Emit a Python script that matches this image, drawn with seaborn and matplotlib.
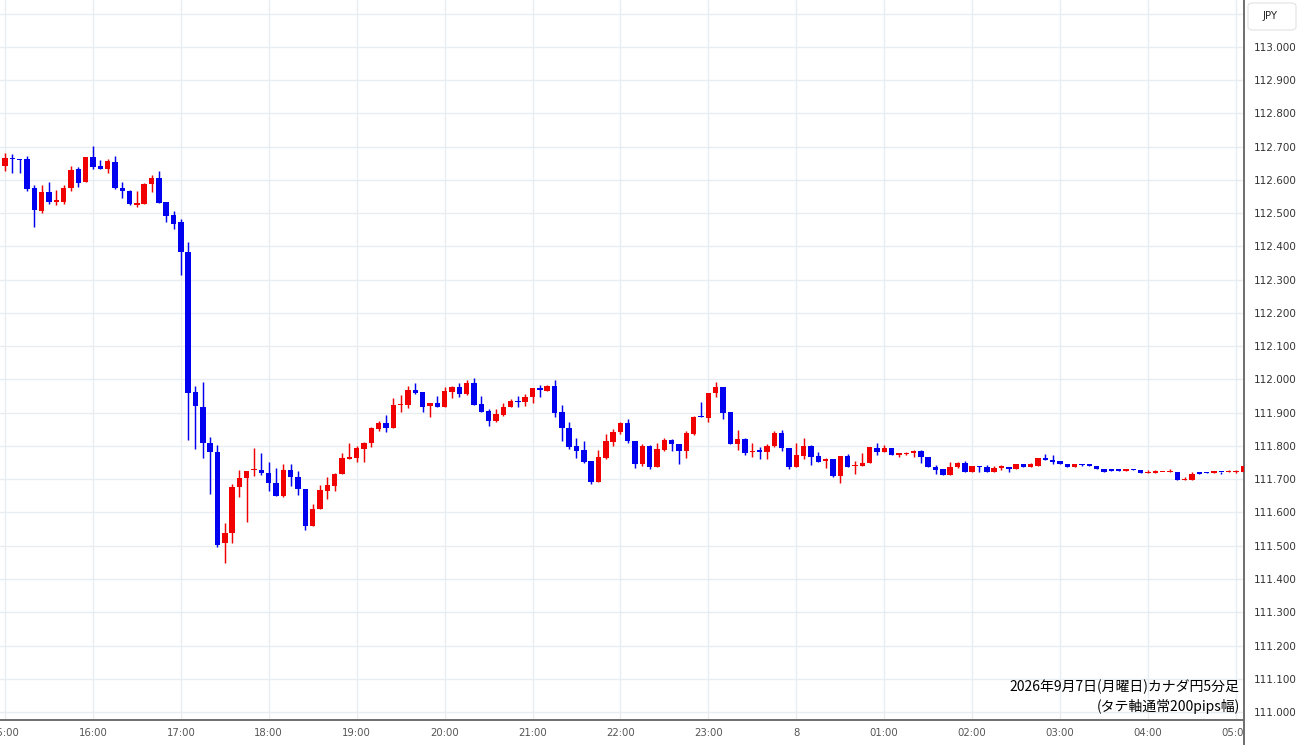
import numpy as np
import matplotlib
matplotlib.use("Agg")
import matplotlib.pyplot as plt
from matplotlib.patches import FancyBboxPatch, Rectangle
from matplotlib.lines import Line2D
import seaborn as sns

# ---- data: 5-minute CAD/JPY candles starting 15:00 ----
opens = [112.643, 112.665, 112.662, 112.662, 112.577, 112.506, 112.565, 112.535, 112.535, 112.575,
         112.632, 112.595, 112.670, 112.642, 112.632, 112.655, 112.577, 112.568, 112.526, 112.527,
         112.587, 112.607, 112.535, 112.495, 112.472, 112.384, 111.961, 111.918, 111.808, 111.783,
         111.507, 111.539, 111.676, 111.703, 111.727, 111.728, 111.720, 111.690, 111.651, 111.728,
         111.708, 111.671, 111.560, 111.610, 111.666, 111.680, 111.715, 111.762, 111.763, 111.790,
         111.808, 111.850, 111.870, 111.853, 111.923, 111.923, 111.968, 111.963, 111.920, 111.928,
         111.918, 111.963, 111.976, 111.956, 111.990, 111.926, 111.906, 111.875, 111.893, 111.916,
         111.935, 111.933, 111.948, 111.973, 111.966, 111.980, 111.903, 111.855, 111.800, 111.788,
         111.756, 111.691, 111.765, 111.813, 111.843, 111.870, 111.816, 111.745, 111.801, 111.736,
         111.788, 111.818, 111.806, 111.786, 111.835, 111.888, 111.883, 111.958, 111.978, 111.903,
         111.806, 111.821, 111.782, 111.785, 111.783, 111.800, 111.838, 111.793, 111.738, 111.771,
         111.801, 111.770, 111.755, 111.761, 111.711, 111.770, 111.739, 111.740, 111.750, 111.795,
         111.783, 111.795, 111.773, 111.775, 111.778, 111.785, 111.766, 111.738, 111.730, 111.713,
         111.738, 111.748, 111.721, 111.740, 111.736, 111.723, 111.735, 111.736, 111.730, 111.746,
         111.738, 111.740, 111.765, 111.758, 111.755, 111.746, 111.738, 111.746, 111.745, 111.740,
         111.730, 111.730, 111.730, 111.725, 111.730, 111.727, 111.718, 111.718, 111.722, 111.721,
         111.723, 111.698, 111.698, 111.721, 111.721, 111.720, 111.723, 111.721, 111.722, 111.723]
highs = [112.682, 112.678, 112.662, 112.672, 112.585, 112.585, 112.595, 112.570, 112.585, 112.643,
         112.638, 112.670, 112.703, 112.660, 112.662, 112.672, 112.595, 112.570, 112.567, 112.590,
         112.615, 112.627, 112.535, 112.507, 112.482, 112.414, 111.980, 111.993, 111.828, 111.803,
         111.567, 111.686, 111.728, 111.726, 111.793, 111.778, 111.753, 111.733, 111.745, 111.745,
         111.725, 111.671, 111.626, 111.683, 111.708, 111.718, 111.780, 111.808, 111.800, 111.813,
         111.858, 111.875, 111.893, 111.943, 111.953, 111.980, 111.989, 111.963, 111.928, 111.951,
         111.978, 111.980, 111.989, 111.998, 112.004, 111.950, 111.910, 111.910, 111.928, 111.940,
         111.951, 111.956, 111.973, 111.983, 111.983, 111.998, 111.923, 111.873, 111.823, 111.816,
         111.756, 111.788, 111.835, 111.850, 111.873, 111.880, 111.816, 111.806, 111.803, 111.808,
         111.823, 111.821, 111.806, 111.845, 111.890, 111.933, 111.960, 111.993, 111.978, 111.903,
         111.848, 111.825, 111.808, 111.796, 111.806, 111.845, 111.848, 111.793, 111.808, 111.825,
         111.803, 111.781, 111.763, 111.761, 111.770, 111.775, 111.755, 111.778, 111.796, 111.808,
         111.803, 111.795, 111.780, 111.781, 111.788, 111.788, 111.766, 111.743, 111.730, 111.753,
         111.753, 111.756, 111.740, 111.740, 111.743, 111.740, 111.743, 111.736, 111.746, 111.746,
         111.750, 111.765, 111.775, 111.773, 111.755, 111.746, 111.746, 111.746, 111.745, 111.740,
         111.730, 111.730, 111.730, 111.730, 111.730, 111.727, 111.728, 111.728, 111.723, 111.730,
         111.723, 111.706, 111.721, 111.721, 111.721, 111.723, 111.723, 111.728, 111.728, 111.740]
lows = [112.628, 112.622, 112.622, 112.566, 112.458, 112.502, 112.527, 112.525, 112.527, 112.566,
        112.580, 112.593, 112.634, 112.632, 112.622, 112.572, 112.545, 112.525, 112.518, 112.527,
        112.565, 112.530, 112.472, 112.452, 112.314, 111.818, 111.791, 111.765, 111.655, 111.497,
        111.449, 111.507, 111.648, 111.572, 111.710, 111.713, 111.666, 111.651, 111.648, 111.680,
        111.653, 111.547, 111.560, 111.610, 111.640, 111.666, 111.715, 111.762, 111.753, 111.753,
        111.796, 111.846, 111.843, 111.853, 111.903, 111.913, 111.956, 111.903, 111.888, 111.916,
        111.918, 111.943, 111.946, 111.953, 111.923, 111.903, 111.861, 111.873, 111.890, 111.916,
        111.918, 111.921, 111.928, 111.948, 111.966, 111.888, 111.816, 111.790, 111.763, 111.750,
        111.686, 111.691, 111.761, 111.800, 111.835, 111.810, 111.733, 111.741, 111.731, 111.736,
        111.786, 111.786, 111.746, 111.763, 111.833, 111.886, 111.873, 111.948, 111.880, 111.806,
        111.788, 111.773, 111.768, 111.760, 111.760, 111.798, 111.786, 111.731, 111.738, 111.760,
        111.743, 111.753, 111.735, 111.708, 111.690, 111.738, 111.715, 111.740, 111.750, 111.773,
        111.783, 111.773, 111.768, 111.773, 111.766, 111.750, 111.736, 111.716, 111.713, 111.713,
        111.733, 111.721, 111.721, 111.721, 111.723, 111.723, 111.728, 111.721, 111.730, 111.738,
        111.738, 111.740, 111.758, 111.746, 111.745, 111.738, 111.738, 111.741, 111.741, 111.730,
        111.723, 111.725, 111.725, 111.725, 111.728, 111.718, 111.718, 111.718, 111.722, 111.721,
        111.698, 111.698, 111.698, 111.715, 111.719, 111.720, 111.716, 111.721, 111.718, 111.723]
closes = [112.667, 112.662, 112.660, 112.572, 112.510, 112.565, 112.535, 112.537, 112.575, 112.630,
          112.592, 112.670, 112.640, 112.632, 112.657, 112.575, 112.567, 112.527, 112.528, 112.588,
          112.607, 112.532, 112.493, 112.468, 112.384, 111.960, 111.919, 111.808, 111.783, 111.502,
          111.539, 111.678, 111.703, 111.726, 111.729, 111.720, 111.690, 111.651, 111.728, 111.706,
          111.670, 111.559, 111.610, 111.668, 111.683, 111.715, 111.763, 111.764, 111.793, 111.810,
          111.853, 111.870, 111.853, 111.923, 111.926, 111.968, 111.958, 111.918, 111.928, 111.918,
          111.965, 111.978, 111.955, 111.990, 111.923, 111.903, 111.875, 111.895, 111.918, 111.935,
          111.932, 111.948, 111.973, 111.968, 111.980, 111.900, 111.853, 111.798, 111.785, 111.753,
          111.691, 111.766, 111.815, 111.843, 111.870, 111.816, 111.745, 111.801, 111.738, 111.790,
          111.818, 111.806, 111.786, 111.838, 111.888, 111.886, 111.960, 111.978, 111.900, 111.806,
          111.821, 111.780, 111.785, 111.783, 111.800, 111.838, 111.793, 111.738, 111.773, 111.800,
          111.768, 111.753, 111.761, 111.711, 111.770, 111.738, 111.741, 111.750, 111.796, 111.781,
          111.795, 111.773, 111.778, 111.780, 111.785, 111.766, 111.738, 111.728, 111.713, 111.738,
          111.750, 111.721, 111.740, 111.736, 111.723, 111.735, 111.738, 111.730, 111.746, 111.738,
          111.746, 111.765, 111.758, 111.753, 111.745, 111.738, 111.746, 111.743, 111.741, 111.730,
          111.723, 111.725, 111.725, 111.730, 111.728, 111.718, 111.721, 111.725, 111.723, 111.723,
          111.698, 111.701, 111.715, 111.715, 111.719, 111.723, 111.721, 111.723, 111.723, 111.740]

hour_labels = ['15:00', '16:00', '17:00', '18:00', '19:00', '20:00', '21:00', '22:00',
               '23:00', '8', '01:00', '02:00', '03:00', '04:00', '05:00']
price_ticks = [111.0, 111.1, 111.2, 111.3, 111.4, 111.5, 111.6, 111.7, 111.8, 111.9,
               112.0, 112.1, 112.2, 112.3, 112.4, 112.5, 112.6, 112.7, 112.8, 112.9, 113.0]
grid_prices = price_ticks + [113.1]
title_lines = ['2026年9月7日(月曜日)カナダ円5分足', '(タテ軸通常200pips幅)']
currency = 'JPY'

# ---- style ----
sns.set_theme(style='white')
plt.rcParams['font.family'] = ['DejaVu Sans']

UP = '#f00000'
DOWN = '#0000f0'
GRID = '#e7edf1'
AXIS = '#6e6e6e'

W, H = 1300, 745
fig = plt.figure(figsize=(W / 100, H / 100), dpi=100)
fig.patch.set_facecolor('white')
ax = fig.add_axes([0, 25 / H, 1244 / W, 720 / H])
ax.set_facecolor('white')

n = len(opens)
idx = np.arange(n)
o = np.array(opens); c = np.array(closes); hi = np.array(highs); lo = np.array(lows)
colors = np.where(c >= o, UP, DOWN)

# grid
for g in grid_prices:
    ax.axhline(g, color=GRID, lw=1.0, zorder=0)
hour_pos = [12 * i for i in range(len(hour_labels))]
for xp in hour_pos:
    ax.axvline(xp, color=GRID, lw=1.0, zorder=0)

# wicks
ax.vlines(idx, lo, hi, colors=colors, lw=1.05, zorder=2)
# bodies
bottoms = np.minimum(o, c)
heights = np.maximum(np.abs(c - o), 0.004)
ax.bar(idx, heights, bottom=bottoms, width=0.74, color=colors, edgecolor=colors,
       linewidth=0, zorder=3)

ax.set_xlim(-0.68, 169.1)
ax.set_ylim(110.976, 113.141)

ax.set_xticks(hour_pos)
ax.set_xticklabels(hour_labels)
ax.yaxis.tick_right()
ax.set_yticks(price_ticks)
ax.set_yticklabels([f'{p:.3f}' for p in price_ticks])
ax.tick_params(axis='x', length=0, pad=6, labelsize=7.3, labelcolor='#555555')
ax.tick_params(axis='y', length=0, pad=7, labelsize=7.5, labelcolor='#333333')
for lab in ax.get_yticklabels():
    lab.set_horizontalalignment('left')

for side in ['top', 'left']:
    ax.spines[side].set_visible(False)
for side in ['right', 'bottom']:
    ax.spines[side].set_visible(True)
    ax.spines[side].set_color(AXIS)
    ax.spines[side].set_linewidth(1.4)

# annotation text (bottom right in plot)
ax.text(0.9965, 33 / 720, title_lines[0], transform=ax.transAxes, ha='right', va='center',
        fontsize=10, color='black', family=['Noto Sans CJK JP', 'DejaVu Sans'], zorder=5)
ax.text(0.9965, 13 / 720, title_lines[1], transform=ax.transAxes, ha='right', va='center',
        fontsize=10, color='black', family=['Noto Sans CJK JP', 'DejaVu Sans'], zorder=5)

# cover the x-label overflow in the bottom-right corner, extend the axis line
fig.patches.append(Rectangle((1245 / W, 0), 55 / W, 24 / H, transform=fig.transFigure,
                             facecolor='white', edgecolor='none', zorder=10))
fig.lines.append(Line2D([1244 / W, 1244 / W], [0, 25 / H], transform=fig.transFigure,
                        color=AXIS, lw=1.4, zorder=11))

# currency box
fig.patches.append(FancyBboxPatch((1248 / W, (H - 30) / H), 48 / W, 27 / H,
                                  boxstyle='round,pad=0,rounding_size=0.004',
                                  transform=fig.transFigure, facecolor='white',
                                  edgecolor='#e2e2e2', lw=0.8, zorder=10))
fig.text(1270 / W, (H - 16) / H, currency, ha='center', va='center', fontsize=7.3,
         color='#222222', zorder=11)

fig.savefig('out.png', dpi=100, facecolor='white')
